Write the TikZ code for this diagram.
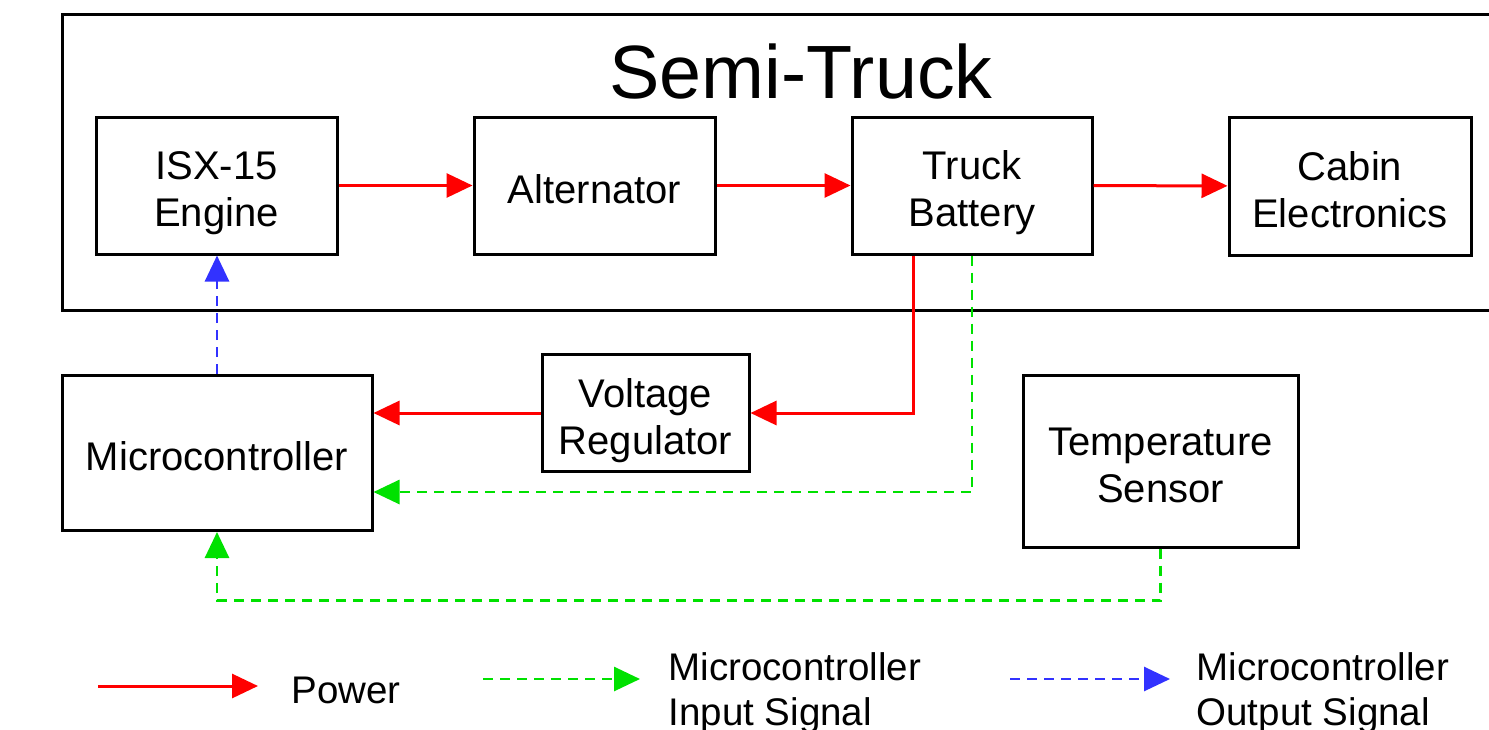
\documentclass[tikz,border=0pt]{standalone}
\usepackage{fontspec}
\setmainfont{Liberation Sans}
\usetikzlibrary{arrows.meta}
\definecolor{sigGreen}{RGB}{0,225,0}
\definecolor{sigBlue}{RGB}{50,50,255}
% line struts so that text sits like in the original boxes
\newcommand{\bxtop}{\rule[-9pt]{0pt}{53pt}}
\newcommand{\bxbot}{\rule[-9pt]{0pt}{9pt}}

\begin{document}
\begin{tikzpicture}[x=1pt, y=-1pt, >={Triangle[length=26pt,width=24pt]},
    block/.style={draw, line width=3pt, inner sep=0pt, align=center,
      font=\fontsize{40}{47}\selectfont},
    power/.style={->, line width=3pt, red},
    insig/.style={->, line width=2.8pt, sigGreen, dash pattern=on 10pt off 7pt},
    outsig/.style={->, line width=2.8pt, sigBlue, dash pattern=on 10pt off 7pt},
    legtext/.style={align=left, anchor=west, font=\fontsize{38.5}{45}\selectfont}]
    \useasboundingbox (0,0) rectangle (1489,729);
    % Truck frame (open to the right)
    \draw[line width=3pt] (1495,14) -- (62,14) -- (62,310) -- (1495,310);
    \node[font=\fontsize{75.5}{80}\selectfont] (title) at (801,72) {Semi-Truck};
    % Blocks inside the truck
    \node[block, minimum width=241pt, minimum height=137pt] (engine) at (216.5,185.5) {\bxtop ISX-15\\Engine\bxbot};
    \node[block, minimum width=241pt, minimum height=137pt] (alt) at (594.5,185.5) {\bxtop Alternator\bxbot};
    \node[block, minimum width=240pt, minimum height=137pt] (batt) at (972,185.5) {\bxtop Truck\\Battery\bxbot};
    \node[block, minimum width=242pt, minimum height=138pt] (cabin) at (1350,186) {\bxtop Cabin\\Electronics\bxbot};
    % Blocks outside
    \node[block, minimum width=310pt, minimum height=155pt] (micro) at (217,453) {\bxtop Microcontroller\bxbot};
    \node[block, minimum width=207pt, minimum height=117pt] (vreg) at (645.5,413) {\bxtop Voltage\\Regulator\bxbot};
    \node[block, minimum width=275pt, minimum height=172pt] (temp) at (1160.5,461) {\bxtop Temperature\\Sensor\bxbot};
    % Power
    \draw[power] (engine) -- (alt);
    \draw[power] (alt) -- (batt);
    \draw[power] (batt) -- (cabin);
    \draw[power] ([xshift=-59pt]batt.south) |- (vreg);
    \draw[power] (vreg) -- (vreg -| micro.east);
    % Input signals
    \draw[insig] (batt.south) |- ([yshift=-39pt]micro.east);
    \draw[insig] (temp.south) -- ++(0,52) -| (micro.south);
    % Output signal
    \draw[outsig] (micro.north) -- (micro.north |- engine.south);
    % Legend
    \coordinate (lp1) at (98,686);   \coordinate (lp2) at (258,686);
    \coordinate (li1) at (483,679);  \coordinate (li2) at (640,679);
    \coordinate (lo1) at (1010,679); \coordinate (lo2) at (1170,679);
    \draw[power] (lp1) -- (lp2);
    \draw[insig] (li1) -- (li2);
    \draw[outsig] (lo1) -- (lo2);
    \node[legtext] (lpow) at (288,690) {Power};
    \node[legtext] (lin) at (665,693) {Microcontroller\\Input Signal};
    \node[legtext] (lout) at (1193,693) {Microcontroller\\Output Signal};
\end{tikzpicture}
\end{document}
